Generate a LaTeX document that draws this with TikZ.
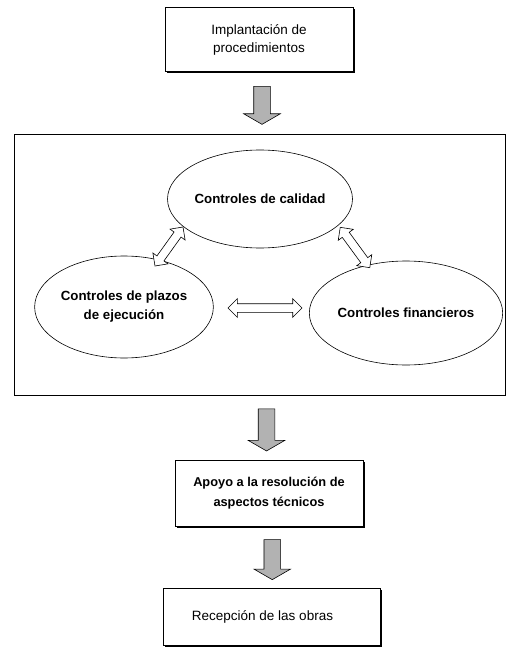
\documentclass[tikz,border=0pt]{standalone}
\usepackage{fontspec}
\setmainfont{Liberation Sans}
\usetikzlibrary{shapes.geometric,shapes.arrows,shadows,calc}
\tikzset{
  boxnode/.style={draw=black, line width=0.8pt, fill=white, rectangle, align=center,
    drop shadow={shadow xshift=1.8pt, shadow yshift=-1.8pt, fill=black, opacity=1},
    font=\fontsize{13.5}{18}\selectfont},
  ovalnode/.style={draw=black, line width=0.6pt, ellipse, align=center, inner sep=0pt,
    font=\fontsize{13.3}{19}\selectfont\bfseries},
  downarrow/.style={single arrow, draw=black, line width=0.6pt, fill=gray!60,
    shape border rotate=270, inner sep=0pt, minimum width=0pt,
    text width=16pt, text height=0pt, text depth=0pt,
    single arrow head extend=10pt, single arrow tip angle=120, minimum height=38pt},
  hollowarrow/.style={double arrow, draw=black, line width=0.6pt, fill=white,
    inner sep=0pt, text height=8pt, text depth=0pt, text width=0pt,
    double arrow head extend=5pt, double arrow tip angle=90, sloped}
}
\begin{document}
\begin{tikzpicture}[x=1pt,y=-1pt]
\useasboundingbox (0,0) rectangle (506,647);
% top box
\node[boxnode, minimum width=188pt, minimum height=64pt] (top) at (259,39.5) {Implantación de\\procedimientos};
% big frame
\draw[line width=0.9pt] (14,134) rectangle (505,395);
\coordinate (bigN) at (261,134);
\coordinate (bigS) at (264,395);
% ellipses
\node[ovalnode, minimum width=176pt, minimum height=98pt] (cal) at (260,199) {Controles de calidad};
\node[ovalnode, minimum width=178pt, minimum height=102pt] (plz) at (124,307) {Controles de plazos\\de ejecución};
\node[ovalnode, minimum width=182pt, minimum height=104pt] (fin) at (406,313) {Controles financieros};
% double arrows
\coordinate (l1) at (155,266);
\coordinate (l2) at (183,227);
\coordinate (r1) at (340,227);
\coordinate (r2) at (370,268);
\coordinate (h1) at (228,308);
\coordinate (h2) at (302,308);
\path (l1) -- (l2) node[midway, hollowarrow, minimum height=48pt] (dl) {};
\path (r1) -- (r2) node[midway, hollowarrow, minimum height=50pt] (dr) {};
\path (h1) -- (h2) node[midway, hollowarrow, minimum height=74pt] (dh) {};
% box 2
\node[boxnode, minimum width=188pt, minimum height=66pt, font=\fontsize{12.8}{20}\selectfont\bfseries] (apo) at (269,493.5) {Apoyo a la resolución de\\aspectos técnicos};
% box 3
\node[boxnode, minimum width=217pt, minimum height=57pt] (rec) at (271.5,616.5) {};
\node[font=\fontsize{13.5}{18}\selectfont] (recT) at (262.5,616.5) {Recepción de las obras};
% gray arrows
\node[downarrow] (a1) at ($(top.south)!0.5!(bigN)+(2,0)$) {};
\node[downarrow, minimum height=42pt] (a2) at ($(bigS)!0.5!(apo.north)$) {};
\node[downarrow, minimum height=40pt] (a3) at ($(apo.south)!0.5!(rec.north)+(2,0)$) {};
\end{tikzpicture}
\end{document}
